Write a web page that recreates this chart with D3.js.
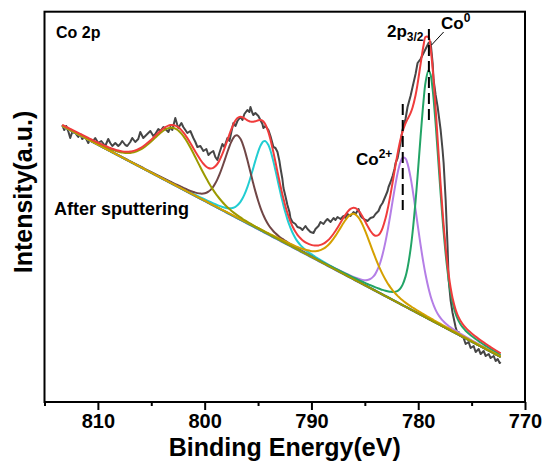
<!DOCTYPE html>
<html><head><meta charset="utf-8">
<script src="https://cdn.jsdelivr.net/npm/d3@7"></script>
<style>
html,body{margin:0;padding:0;background:#fff;}
svg text{font-family:"Liberation Sans",Arial,sans-serif;font-weight:bold;fill:#000;}
</style></head>
<body>
<svg id="chart" width="545" height="466"></svg>
<script>
// ---- data ----
const energy = [813.34,813.15,812.97,812.78,812.59,812.40,812.12,811.84,811.65,811.46,811.18,810.90,810.72,810.53,810.25,809.97,809.68,809.31,809.03,808.84,808.65,808.37,808.09,807.90,807.72,807.43,807.25,806.97,806.78,806.50,806.22,806.03,805.75,805.56,805.28,805.09,804.81,804.62,804.34,804.15,803.87,803.68,803.40,803.21,803.03,802.75,802.56,802.47,802.18,802.00,801.81,801.62,801.34,801.06,800.87,800.68,800.40,800.12,799.84,799.65,799.47,799.19,799.00,798.81,798.62,798.34,798.15,797.87,797.68,797.50,797.31,797.12,796.93,796.65,796.46,796.28,796.00,795.81,795.71,795.53,795.44,795.25,794.97,794.78,794.59,794.50,794.31,794.03,793.84,793.56,793.37,793.18,793.00,792.90,792.72,792.62,792.44,792.25,792.06,791.97,791.78,791.50,791.31,791.03,790.84,790.56,790.37,790.09,789.81,789.62,789.34,789.15,788.87,788.68,788.50,788.21,787.93,787.75,787.56,787.28,787.00,786.81,786.62,786.34,786.06,785.87,785.59,785.40,785.22,784.93,784.75,784.47,784.19,784.00,783.72,783.53,783.34,783.06,782.87,782.78,782.59,782.40,782.22,782.12,781.93,781.84,781.65,781.47,781.19,781.00,780.72,780.53,780.25,780.06,779.78,779.50,779.31,779.03,778.84,778.65,778.56,778.37,778.18,777.90,777.72,777.62,777.43,777.34,777.25,777.15,776.97,776.78,776.50,776.31,776.22,776.03,775.75,775.56,775.28,775.09,774.81,774.62,774.34,774.15,773.87,773.68,773.40,773.22,772.93,772.75,772.56,772.37,772.28];
const intensity = [27.7,27.2,27.6,27.1,26.4,27.0,26.9,26.5,26.8,26.3,26.5,25.9,26.3,26.0,26.4,25.9,26.1,25.6,26.3,25.9,25.6,25.9,25.6,25.8,26.1,25.7,25.6,26.0,26.4,26.0,26.3,27.0,26.4,26.6,26.9,27.1,26.6,26.8,27.3,27.1,27.5,27.3,27.0,27.5,27.2,28.4,27.7,27.4,27.9,27.5,27.2,26.9,27.1,26.4,26.0,25.5,25.6,25.1,25.3,24.7,24.9,25.1,24.5,24.2,24.9,25.8,25.5,26.4,26.1,27.0,27.9,27.6,28.1,28.5,28.2,28.8,29.2,29.0,29.5,28.9,28.7,28.9,28.6,28.2,27.8,27.4,27.6,27.2,26.6,25.5,25.4,25.0,24.1,23.4,22.3,21.4,20.6,19.7,19.0,18.4,18.0,17.8,17.5,17.4,17.2,17.6,17.3,17.0,16.9,17.3,17.6,18.0,17.8,18.1,18.3,18.0,18.4,18.2,18.5,18.3,18.6,18.4,18.8,18.6,19.0,18.8,19.3,18.6,18.4,18.2,18.1,18.4,18.5,18.8,19.1,19.6,19.9,20.6,21.1,21.5,22.0,22.6,23.3,23.9,24.4,24.9,26.0,27.2,28.3,29.5,30.6,31.5,32.8,33.9,34.3,34.9,35.3,35.9,36.0,33.9,32.2,30.7,29.5,27.2,25.2,23.9,20.2,17.8,15.5,12.2,10.2,8.9,7.5,6.8,7.0,6.6,6.4,5.8,6.0,5.4,5.6,5.0,5.3,4.8,5.1,4.6,4.8,4.4,4.6,4.1,4.3,3.9,4.0];

// fitted components (pseudo-Voigt peak parameters)
const peakNames   = ["Co0 2p3/2","Co2+ 2p3/2","Sat. 2p3/2","Co0 2p1/2","Co2+ 2p1/2","Sat. 2p1/2"];
const peakCenters = [779.0, 781.3, 785.9, 794.3, 796.9, 802.7];
const peakHeights = [24.9, 14.9, 6.6, 9.2, 8.3, 5.7];
const peakFwhm    = [2.3, 2.9, 3.8, 2.9, 3.0, 5.0];
const peakLorentz = [0.3, 0.2, 0.4, 0.3, 0.3, 0.2];
// linear background end points [energy, intensity]
const bgStart = [813.34, 27.6];
const bgEnd   = [772.28, 4.5];

const xTicksMajor = [810, 800, 790, 780, 770];
const xTicksMinor = [815, 805, 795, 785, 775];

// annotation markers: [energy, intensity from, intensity to]
const markCo2 = [781.45, 19.2, 29.8];
const markCo0 = [779.0, 27.9, 37.3];
const leaderCo0 = [[777.62, 37.0], [778.75, 35.7]];

// ---- styles ----
const peakColors = ["#22a466", "#b47ee6", "#d5a000", "#22cdd2", "#704646", "#9c9a00"];
const drawOrder = [3, 4, 1, 0, 2, 5];

const svg = d3.select("#chart");
const L = 44.5, R = 525, T = 11.7, B = 402;
const x = d3.scaleLinear().domain([815, 770]).range([L, R]);
const y = d3.scaleLinear().domain([0, 39]).range([B, 12]);

const bg = e => bgEnd[1] + (e - bgEnd[0]) * (bgStart[1] - bgEnd[1]) / (bgStart[0] - bgEnd[0]);
const pv = (i, e) => {
  const t = (e - peakCenters[i]) / peakFwhm[i];
  const eta = peakLorentz[i];
  return peakHeights[i] * (eta / (1 + 4 * t * t) + (1 - eta) * Math.exp(-4 * Math.LN2 * t * t));
};

const line = d3.line().x(d => x(d[0])).y(d => y(d[1])).curve(d3.curveCatmullRom);

// experimental data
svg.append("path")
  .datum(energy.map((e, i) => [e, intensity[i]]))
  .attr("d", d3.line().x(d => x(d[0])).y(d => y(d[1])))
  .attr("fill", "none").attr("stroke", "#464646").attr("stroke-width", 2).attr("stroke-linejoin", "round");

// background (under components)
svg.append("path")
  .datum(energy.map(e => [e, bg(e)]))
  .attr("d", line).attr("fill", "none").attr("stroke", "#4a6fd0").attr("stroke-width", 2);

// components
drawOrder.forEach(i => {
  svg.append("path")
    .datum(energy.map(e => [e, bg(e) + pv(i, e)]))
    .attr("d", line).attr("fill", "none")
    .attr("stroke", peakColors[i]).attr("stroke-width", 2);
});

// envelope
svg.append("path")
  .datum(energy.map(e => [e, bg(e) + peakCenters.reduce((s, c, i) => s + pv(i, e), 0)]))
  .attr("d", line).attr("fill", "none").attr("stroke", "#f03c3c").attr("stroke-width", 2);

// frame
svg.append("rect").attr("x", L).attr("y", T).attr("width", R - L).attr("height", B - T)
  .attr("fill", "none").attr("stroke", "#000").attr("stroke-width", 2);

// x axis
const ax = svg.append("g").attr("transform", `translate(0,${B})`)
  .call(d3.axisBottom(x).tickValues(xTicksMajor).tickSize(8).tickPadding(4).tickFormat(d3.format("d")));
ax.select(".domain").remove();
ax.selectAll("line").attr("stroke", "#000").attr("stroke-width", 2);
ax.selectAll("text").attr("font-size", 20).attr("font-weight", "bold")
  .attr("font-family", "Liberation Sans, Arial, sans-serif").attr("fill", "#000");
const axm = svg.append("g").attr("transform", `translate(0,${B})`)
  .call(d3.axisBottom(x).tickValues(xTicksMinor).tickSize(4).tickFormat(""));
axm.select(".domain").remove();
axm.selectAll("line").attr("stroke", "#000").attr("stroke-width", 2);

// axis titles
svg.append("text").attr("x", (L + R) / 2).attr("y", 456).attr("text-anchor", "middle")
  .attr("font-size", 25).text("Binding Energy(eV)");
svg.append("text").attr("transform", "translate(31.5,192) rotate(-90)").attr("text-anchor", "middle")
  .attr("font-size", 25).text("Intensity(a.u.)");

// dashed markers
[markCo2, markCo0].forEach(m => {
  svg.append("line").attr("x1", x(m[0])).attr("x2", x(m[0]))
    .attr("y1", y(m[2])).attr("y2", y(m[1]))
    .attr("stroke", "#000").attr("stroke-width", 2).attr("stroke-dasharray", "11,5");
});
svg.append("line")
  .attr("x1", x(leaderCo0[0][0])).attr("y1", y(leaderCo0[0][1]))
  .attr("x2", x(leaderCo0[1][0])).attr("y2", y(leaderCo0[1][1]))
  .attr("stroke", "#000").attr("stroke-width", 1);

// labels
svg.append("text").attr("x", 56).attr("y", 37.5).attr("font-size", 16).text("Co 2p");
svg.append("text").attr("x", 54).attr("y", 215).attr("font-size", 18).text("After sputtering");

const t1 = svg.append("text").attr("x", 387).attr("y", 37).attr("font-size", 17);
t1.append("tspan").text("2p");
t1.append("tspan").attr("font-size", 12).attr("dy", 4).text("3/2");

const t2 = svg.append("text").attr("x", 441).attr("y", 28.5).attr("font-size", 17);
t2.append("tspan").text("Co");
t2.append("tspan").attr("font-size", 12).attr("dy", -7).text("0");

const t3 = svg.append("text").attr("x", 356).attr("y", 165).attr("font-size", 17);
t3.append("tspan").text("Co");
t3.append("tspan").attr("font-size", 12).attr("dy", -7).text("2+");
</script>
</body></html>
